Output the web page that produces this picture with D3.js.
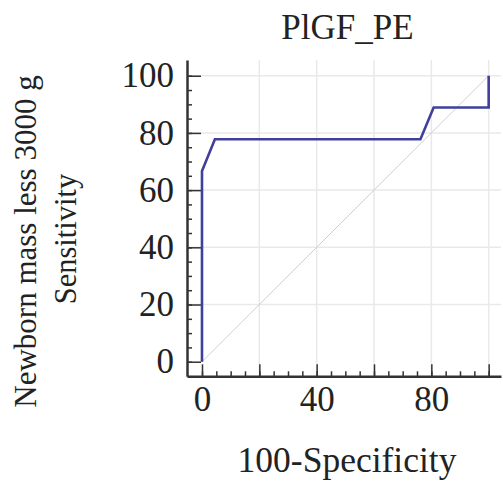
<!DOCTYPE html>
<html>
<head>
<meta charset="utf-8">
<script src="https://cdn.jsdelivr.net/npm/d3@7"></script>
<style>
  html, body { margin: 0; padding: 0; background: #fff; }
  svg { display: block; }
  text { font-family: "Liberation Serif", "DejaVu Serif", serif; fill: #222; }
</style>
</head>
<body>
<svg id="chart" width="503" height="482"></svg>
<script>
// ---- data ----
const rocFpr  = [0, 0, 4.5, 76.2, 80.8, 100, 100];          // 100-Specificity
const rocTpr  = [0, 66.67, 77.78, 77.78, 88.89, 88.89, 100]; // Sensitivity
const xMajorTicks = [0, 20, 40, 60, 80, 100];
const xTickLabels = ["0", "", "40", "", "80", ""];
const yMajorTicks = [0, 20, 40, 60, 80, 100];
const yTickLabels = ["0", "20", "40", "60", "80", "100"];
const minorTicks = d3.range(0, 101, 5);
const chartTitle = "PlGF_PE";
const xTitle = "100-Specificity";
const yTitle1 = "Newborn mass less 3000 g";
const yTitle2 = "Sensitivity";

const svg = d3.select("#chart");
const x = d3.scaleLinear().domain([-5.23, 104.3]).range([187, 501]);
const y = d3.scaleLinear().domain([-5.1, 105.5]).range([376.3, 60]);

// grid
const grid = svg.append("g");
grid.selectAll(".gv").data(xMajorTicks.filter(d => d > 0)).join("line")
  .attr("x1", d => x(d)).attr("x2", d => x(d))
  .attr("y1", y.range()[1]).attr("y2", y.range()[0])
  .attr("stroke", "#e9e9e9").attr("stroke-width", 1.5);
grid.selectAll(".gh").data(yMajorTicks.filter(d => d > 0)).join("line")
  .attr("y1", d => y(d)).attr("y2", d => y(d))
  .attr("x1", x.range()[0]).attr("x2", x.range()[1])
  .attr("stroke", "#e9e9e9").attr("stroke-width", 1.5);

// diagonal reference
svg.append("line")
  .attr("x1", x(0)).attr("y1", y(0)).attr("x2", x(100)).attr("y2", y(100))
  .attr("stroke", "#cfcfcf").attr("stroke-width", 1);

// axes
const axisColor = "#333";
function styleAxis(g, width) {
  g.select(".domain").attr("stroke", axisColor).attr("stroke-width", width);
  g.selectAll(".tick line").attr("stroke", axisColor).attr("stroke-width", 1.5);
  g.selectAll(".tick text").style("font-size", "35px").attr("fill", "#222")
    .style("font-family", '"Liberation Serif", serif');
}

// x minor
svg.append("g").attr("transform", `translate(0,${y.range()[0]})`)
  .call(d3.axisBottom(x).tickValues(minorTicks).tickSizeInner(-5).tickSizeOuter(0).tickFormat(""))
  .call(g => { g.select(".domain").remove(); g.selectAll(".tick line").attr("stroke", axisColor).attr("stroke-width", 1.5); });
// x major
const gx = svg.append("g").attr("transform", `translate(0,${y.range()[0]})`)
  .call(d3.axisBottom(x).tickValues(xMajorTicks).tickSizeInner(-12).tickSizeOuter(0)
    .tickPadding(10).tickFormat((d, i) => xTickLabels[i]));
styleAxis(gx, 2.5);

// y minor
svg.append("g").attr("transform", `translate(${x.range()[0]},0)`)
  .call(d3.axisLeft(y).tickValues(minorTicks).tickSizeInner(-5).tickSizeOuter(0).tickFormat(""))
  .call(g => { g.select(".domain").remove(); g.selectAll(".tick line").attr("stroke", axisColor).attr("stroke-width", 1.5); });
// y major
const gy = svg.append("g").attr("transform", `translate(${x.range()[0]},0)`)
  .call(d3.axisLeft(y).tickValues(yMajorTicks).tickSizeInner(-14).tickSizeOuter(0)
    .tickPadding(13).tickFormat((d, i) => yTickLabels[i]));
styleAxis(gy, 2.5);

// ROC curve
const pts = rocFpr.map((f, i) => [f, rocTpr[i]]);
svg.append("path")
  .datum(pts)
  .attr("fill", "none")
  .attr("stroke", "#40409a")
  .attr("stroke-width", 2.6)
  .attr("stroke-linejoin", "miter")
  .attr("d", d3.line().x(d => x(d[0])).y(d => y(d[1])));

// titles
svg.append("text").attr("x", 347.5).attr("y", 39).attr("text-anchor", "middle")
  .style("font-size", "35px").text(chartTitle);
svg.append("text").attr("x", 347).attr("y", 471.5).attr("text-anchor", "middle")
  .style("font-size", "35.5px").text(xTitle);
svg.append("text").attr("transform", "translate(36,241.5) rotate(-90)").attr("text-anchor", "middle")
  .style("font-size", "31px").text(yTitle1);
svg.append("text").attr("transform", "translate(76,239) rotate(-90)").attr("text-anchor", "middle")
  .style("font-size", "30.5px").text(yTitle2);
</script>
</body>
</html>
